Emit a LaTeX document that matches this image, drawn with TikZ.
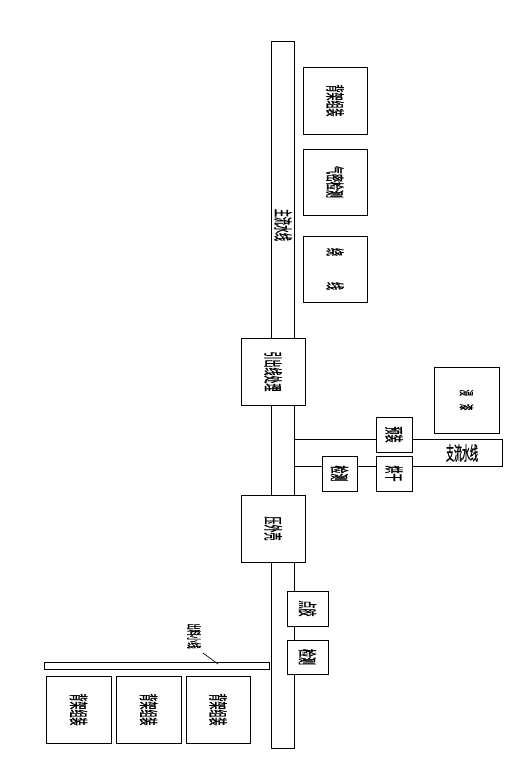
\documentclass[tikz,border=0pt]{standalone}
\usepackage{fontspec}
\newfontfamily\cjk[FakeBold=1.2]{Noto Sans CJK SC}
\newcommand\sq[1]{\scalebox{0.42}[1]{#1}}
\begin{document}
\begin{tikzpicture}[x=1pt,y=-1pt,
  box/.style={draw, fill=white, line width=0.8pt, inner sep=0pt},
  vlab/.style={rotate=-90, font=\cjk\fontsize{19}{19}\selectfont, inner sep=0pt},
  hlab/.style={font=\cjk\fontsize{19}{19}\selectfont, inner sep=0pt}]
\useasboundingbox (0,0) rectangle (521,782);
% main line
\node[box, minimum width=23pt, minimum height=707pt] (main) at (282.5,394.5) {};
\node[vlab] (mainlab) at (283,225) {\sq{主流水线}};
% branch line
\node[box, minimum width=208pt, minimum height=27pt] (branch) at (398,452.5) {};
\node[hlab] (branchlab) at (462,453) {\sq{支流水线}};
% top right boxes
\node[box, minimum width=64pt, minimum height=67pt] (b1) at (335,100.5) {};
\node[vlab] at (b1) {\sq{背架组装}};
\node[box, minimum width=64pt, minimum height=66pt] (b2) at (335,182) {};
\node[vlab] at (b2) {\sq{气密检测}};
\node[box, minimum width=64pt, minimum height=66pt] (b3) at (335,269) {};
\node[vlab] at (b3) {\sq{绕}\hspace{26pt}\sq{线}};
% lead processing
\node[box, minimum width=64pt, minimum height=67pt] (lead) at (273,371.5) {};
\node[vlab] at (lead) {\sq{引出线处理}};
% right box
\node[box, minimum width=65pt, minimum height=66pt] (dip) at (466.5,400) {};
\node[vlab, font=\cjk\fontsize{15}{15}\selectfont] at (dip) {\sq{浸}\hspace{8pt}\sq{漆}};
% branch boxes
\node[box, minimum width=36pt, minimum height=35pt] (pre) at (394,434.5) {};
\node[vlab] at (pre) {\sq{预装}};
\node[box, minimum width=36pt, minimum height=35pt] (dry) at (394,473.5) {};
\node[vlab] at (dry) {\sq{烘干}};
\node[box, minimum width=35pt, minimum height=35pt] (chk1) at (339.5,473.5) {};
\node[vlab] at (chk1) {\sq{检测}};
% press shell
\node[box, minimum width=64pt, minimum height=67pt] (press) at (273,528.5) {};
\node[vlab] at (press) {\sq{压外壳}};
% glue and check
\node[box, minimum width=41pt, minimum height=35pt] (glue) at (307.5,608.5) {};
\node[vlab] at (glue) {\sq{点胶}};
\node[box, minimum width=41pt, minimum height=34pt] (chk2) at (307.5,657) {};
\node[vlab] at (chk2) {\sq{检测}};
% output small line
\node[box, minimum width=225pt, minimum height=7pt] (out) at (156.5,665.5) {};
\node[vlab, font=\cjk\fontsize{15}{15}\selectfont] (outlab) at (194,636) {\sq{出料小线}};
\coordinate (lp) at (203,653);
\coordinate (lq) at (218,664);
\draw[line width=0.7pt] (lp) -- (lq);
% bottom boxes
\node[box, minimum width=65pt, minimum height=67pt] (c1) at (78.5,709.5) {};
\node[vlab] at (c1) {\sq{背架组装}};
\node[box, minimum width=65pt, minimum height=67pt] (c2) at (148.5,709.5) {};
\node[vlab] at (c2) {\sq{背架组装}};
\node[box, minimum width=64pt, minimum height=67pt] (c3) at (218,709.5) {};
\node[vlab] at (c3) {\sq{背架组装}};
\end{tikzpicture}
\end{document}
